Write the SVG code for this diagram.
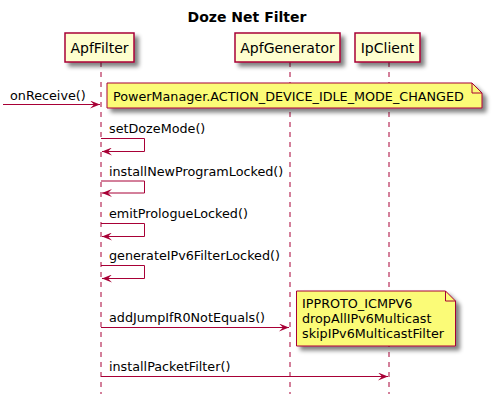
<svg xmlns="http://www.w3.org/2000/svg" width="493" height="405" viewBox="0 0 493 405">
<defs>
<filter id="sh" x="-10%" y="-20%" width="130%" height="160%">
<feGaussianBlur in="SourceAlpha" stdDeviation="2"/>
<feOffset dx="4" dy="4" result="b"/>
<feComponentTransfer><feFuncA type="linear" slope="0.5"/></feComponentTransfer>
<feMerge><feMergeNode/><feMergeNode in="SourceGraphic"/></feMerge>
</filter>
<marker id="ah" viewBox="0 0 10 8" refX="10" refY="4" markerWidth="10" markerHeight="8" markerUnits="userSpaceOnUse" orient="auto">
<polygon points="0,0 10,4 0,8 4,4" fill="#A80036"/>
</marker>
</defs>
<style>
text{font-family:"DejaVu Sans","Noto Sans",sans-serif;fill:#000}
.title{font-size:14px;font-weight:bold}
.pt{font-size:14px}
.msg{font-size:12.75px}
.box{fill:#FEFECE;stroke:#A80036;stroke-width:1.5}
.life{stroke:#A80036;stroke-width:1;stroke-dasharray:5,5;fill:none}
.note{fill:#FBFB77;stroke:#A80036;stroke-width:1}
.fold{fill:none;stroke:#A80036;stroke-width:1}
.ar{stroke:#A80036;stroke-width:1;fill:none;marker-end:url(#ah)}
</style>
<rect width="493" height="405" fill="#FFFFFF"/>
<text class="title" x="247" y="22" text-anchor="middle">Doze Net Filter</text>

<g id="lifelines">
<line class="life" x1="101" y1="62" x2="101" y2="394"/>
<line class="life" x1="290" y1="62" x2="290" y2="394"/>
<line class="life" x1="389" y1="62" x2="389" y2="394"/>
</g>

<g id="ApfFilter">
<rect class="box" x="65" y="33" width="69" height="29" filter="url(#sh)"/>
<text class="pt" x="99.5" y="53" text-anchor="middle">ApfFilter</text>
</g>
<g id="ApfGenerator">
<rect class="box" x="235" y="33" width="105" height="29" filter="url(#sh)"/>
<text class="pt" x="287.5" y="53" text-anchor="middle">ApfGenerator</text>
</g>
<g id="IpClient">
<rect class="box" x="355" y="33" width="65" height="29" filter="url(#sh)"/>
<text class="pt" x="387.5" y="53" text-anchor="middle">IpClient</text>
</g>

<g id="note1">
<path class="note" d="M107,83 L472,83 L482,93 L482,108 L107,108 Z" filter="url(#sh)"/>
<path class="fold" d="M472,83 L472,93 L482,93"/>
<text class="msg" x="113" y="101">PowerManager.ACTION_DEVICE_IDLE_MODE_CHANGED</text>
</g>

<g id="note2">
<path class="note" d="M296.5,291 L445.5,291 L455.5,301 L455.5,346 L296.5,346 Z" filter="url(#sh)"/>
<path class="fold" d="M445.5,291 L445.5,301 L455.5,301"/>
<text class="msg" x="302" y="308">IPPROTO_ICMPV6</text>
<text class="msg" x="302" y="323">dropAllIPv6Multicast</text>
<text class="msg" x="302" y="338">skipIPv6MulticastFilter</text>
</g>

<g id="connectors">
<line class="ar" x1="3" y1="104.5" x2="100" y2="104.5"/>
<path class="ar" d="M101,138.5 L144.5,138.5 L144.5,151.5 L102,151.5"/>
<path class="ar" d="M101,181 L144.5,181 L144.5,193 L102,193"/>
<path class="ar" d="M101,223.5 L144.5,223.5 L144.5,236.5 L102,236.5"/>
<path class="ar" d="M101,265.5 L144.5,265.5 L144.5,278.5 L102,278.5"/>
<line class="ar" x1="101" y1="327.5" x2="289" y2="327.5"/>
<line class="ar" x1="101" y1="376.5" x2="388" y2="376.5"/>
</g>

<g id="labels">
<text class="msg" x="10" y="100">onReceive()</text>
<text class="msg" x="109" y="133">setDozeMode()</text>
<text class="msg" x="109" y="175.5">installNewProgramLocked()</text>
<text class="msg" x="109" y="218">emitPrologueLocked()</text>
<text class="msg" x="109" y="260">generateIPv6FilterLocked()</text>
<text class="msg" x="109" y="322">addJumpIfR0NotEquals()</text>
<text class="msg" x="109" y="371">installPacketFilter()</text>
</g>
</svg>
